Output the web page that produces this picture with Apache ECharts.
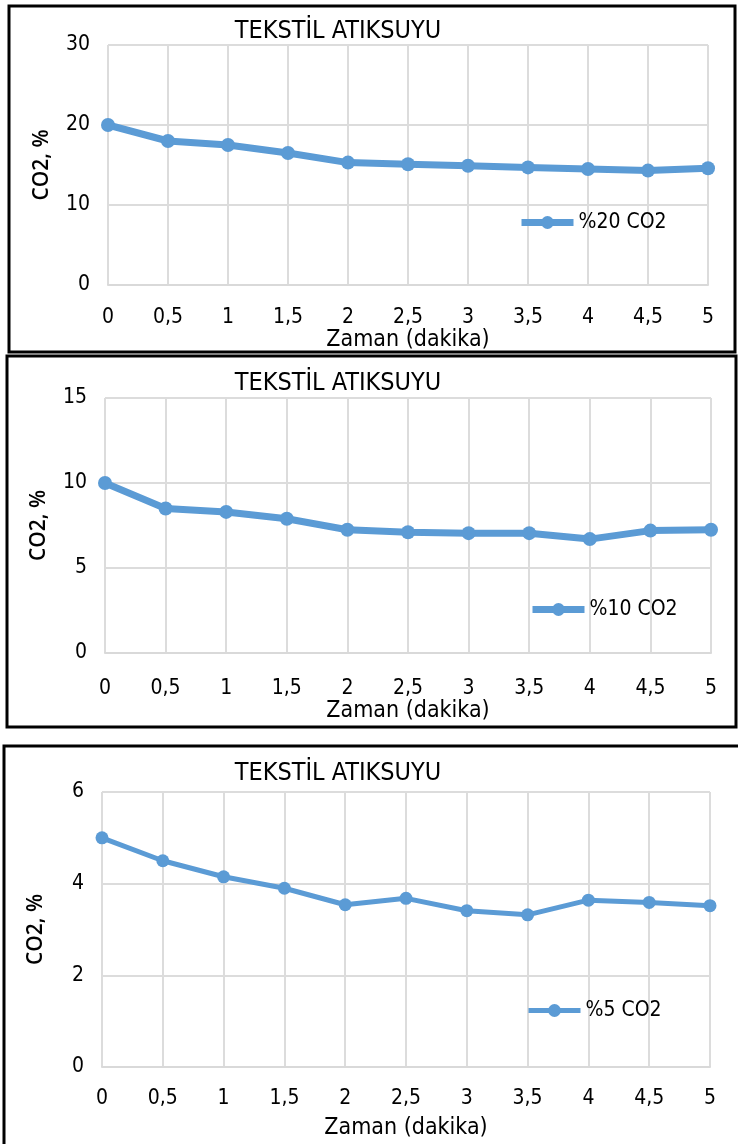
<!DOCTYPE html>
<html>
<head>
<meta charset="utf-8">
<script src="https://cdn.jsdelivr.net/npm/echarts@6/dist/echarts.min.js"></script>
<style>
  html, body { margin: 0; padding: 0; background: #fff; }
  #chart { width: 738px; height: 1144px; }
</style>
</head>
<body>
<div id="chart"></div>
<script>
// zaman ekseni (dakika)
const timeLabels = ['0', '0,5', '1', '1,5', '2', '2,5', '3', '3,5', '4', '4,5', '5']

// CO2 degerleri, %
const co2_20 = [20.0, 18.0, 17.5, 16.5, 15.3, 15.1, 14.9, 14.7, 14.5, 14.3, 14.6]
const co2_10 = [10.0, 8.5, 8.3, 7.9, 7.25, 7.1, 7.05, 7.05, 6.7, 7.2, 7.25]
const co2_5 = [5.0, 4.5, 4.15, 3.9, 3.54, 3.68, 3.41, 3.32, 3.64, 3.59, 3.52]

const seriesNames = ['%20 CO2', '%10 CO2', '%5 CO2']
const yMax = [30, 15, 6]
const yStep = [10, 5, 2]

const title = 'TEKSTİL ATIKSUYU'
const blue = '#5b9bd5'
const narrow = "'Liberation Sans Narrow', 'DejaVu Sans Condensed', sans-serif"

// panel yerlesimi
const panels = [
    { grid: { left: 108, right: 30, top: 45, height: 240 }, titleTop: 14, legend: { left: 513, top: 207 },
      xMargin: 22, xNameGap: 39, lineW: 7, sym: 14 },
    { grid: { left: 105, right: 27, top: 398, height: 255 }, titleTop: 366, legend: { left: 524, top: 594 },
      xMargin: 25, xNameGap: 36, lineW: 7, sym: 14 },
    { grid: { left: 102, right: 28, top: 792, height: 275 }, titleTop: 756, legend: { left: 521, top: 995 },
      xMargin: 21, xNameGap: 50, lineW: 5, sym: 13 }
]
const allData = [co2_20, co2_10, co2_5]

const chart = echarts.init(document.getElementById('chart'))

const option = {
    animation: false,
    title: panels.map(p => ({
        text: title, left: 333, top: p.titleTop, textAlign: 'center',
        textStyle: { fontFamily: narrow, fontSize: 25, fontWeight: 'normal', color: '#000' }
    })),
    legend: panels.map((p, i) => ({
        data: [seriesNames[i]], left: p.legend.left, top: p.legend.top,
        itemWidth: 52, itemHeight: 16, itemGap: 5,
        lineStyle: { width: i < 2 ? 7 : 5 },
        textStyle: { fontFamily: narrow, fontSize: 21, color: '#000' }
    })),
    grid: panels.map(p => p.grid),
    xAxis: panels.map((p, i) => ({
        type: 'category', gridIndex: i, data: timeLabels, boundaryGap: false,
        name: 'Zaman (dakika)', nameLocation: 'middle', nameGap: p.xNameGap,
        nameTextStyle: { fontFamily: narrow, fontSize: 23, color: '#000' },
        axisLine: { lineStyle: { color: '#d9d9d9', width: 2 } },
        axisTick: { show: false },
        axisLabel: { fontFamily: narrow, fontSize: 21, color: '#000', margin: p.xMargin, interval: 0 },
        splitLine: { show: true, lineStyle: { color: '#dcdcdc', width: 2 } }
    })),
    yAxis: panels.map((p, i) => ({
        type: 'value', gridIndex: i, min: 0, max: yMax[i], interval: yStep[i],
        name: 'CO2, %', nameLocation: 'middle', nameGap: 55,
        nameTextStyle: { fontFamily: "'Open Sans', sans-serif", fontSize: 21, fontWeight: 600, color: '#000' },
        axisLine: { show: false },
        axisTick: { show: false },
        axisLabel: { fontFamily: narrow, fontSize: 21, color: '#000', margin: 18 },
        splitLine: { show: true, lineStyle: { color: '#dcdcdc', width: 2 } }
    })),
    series: panels.map((p, i) => ({
        name: seriesNames[i], type: 'line', xAxisIndex: i, yAxisIndex: i,
        data: allData[i], symbol: 'circle', symbolSize: p.sym,
        lineStyle: { color: blue, width: p.lineW },
        itemStyle: { color: blue }
    })),
    graphic: [
        { type: 'rect', shape: { x: 9, y: 6, width: 726, height: 346 }, style: { fill: 'none', stroke: '#000', lineWidth: 3 } },
        { type: 'rect', shape: { x: 7, y: 356, width: 729, height: 371 }, style: { fill: 'none', stroke: '#000', lineWidth: 3 } },
        { type: 'rect', shape: { x: 4, y: 746, width: 740, height: 410 }, style: { fill: 'none', stroke: '#000', lineWidth: 3 } }
    ]
}

chart.setOption(option)
</script>
</body>
</html>
